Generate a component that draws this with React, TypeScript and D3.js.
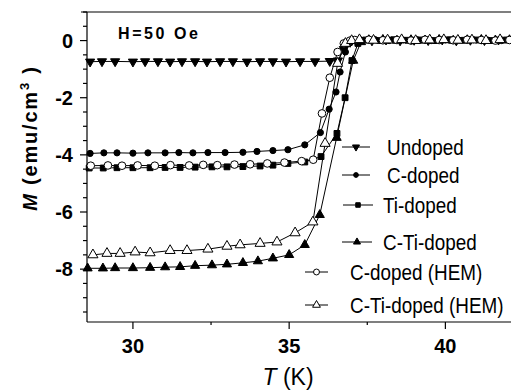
import React, { useEffect, useRef } from "react";
import * as d3 from "d3";

// temperatures (K) and magnetization (emu/cm3)
const undopedT = [28.63, 29.01, 29.43, 30.0, 30.39, 30.8, 31.19, 31.57, 31.99, 32.37, 32.79, 33.2, 33.65, 34.07, 34.48, 34.9, 35.35, 35.83, 36.3, 36.56, 36.75, 36.95, 37.2, 37.65, 38.1, 38.55, 39.0, 39.45, 39.9, 40.35, 40.8, 41.25, 41.7, 42.15];
const undopedM = [-0.74, -0.73, -0.73, -0.74, -0.73, -0.73, -0.74, -0.73, -0.73, -0.74, -0.73, -0.73, -0.74, -0.73, -0.73, -0.74, -0.73, -0.73, -0.72, -0.7, -0.3, -0.05, 0.02, 0, 0.03, 0, 0.02, 0.01, 0.03, 0, 0.02, 0.01, 0.03, 0];

const cDopedT = [28.63, 29.07, 29.49, 30.0, 30.48, 31.03, 31.47, 31.92, 32.4, 32.95, 33.52, 33.97, 34.48, 34.96, 35.5, 36.0, 36.28, 36.5, 36.63, 36.8, 36.95, 37.3, 37.75, 38.2, 38.65, 39.1, 39.55, 40.0, 40.45, 40.9, 41.35, 41.8];
const cDopedM = [-3.95, -3.93, -3.93, -3.94, -3.93, -3.93, -3.92, -3.93, -3.92, -3.92, -3.91, -3.88, -3.85, -3.82, -3.65, -3.22, -2.4, -1.8, -1.1, -0.4, -0.08, 0.01, 0.03, 0, 0.02, 0.03, 0, 0.02, 0.01, 0.03, 0.02, 0];

const tiDopedT = [28.6, 29.05, 29.49, 30.0, 30.55, 31.03, 31.51, 31.99, 32.53, 33.01, 33.52, 34.07, 34.48, 34.96, 35.5, 36.02, 36.53, 36.79, 37.01, 37.2, 37.45, 37.9, 38.35, 38.8, 39.25, 39.7, 40.15, 40.6, 41.05, 41.5, 41.95];
const tiDopedM = [-4.46, -4.46, -4.45, -4.45, -4.45, -4.44, -4.44, -4.43, -4.42, -4.42, -4.41, -4.39, -4.36, -4.3, -4.25, -4.06, -3.25, -2.0, -0.7, -0.1, 0.02, 0, 0.03, 0.01, 0.02, 0, 0.03, 0.01, 0.02, 0, 0.02];

const ctiDopedT = [28.55, 29.04, 29.43, 30.0, 30.55, 31.03, 31.51, 31.99, 32.53, 33.01, 33.52, 34.0, 34.48, 35.0, 35.5, 35.98, 36.52, 37.05, 37.3, 37.55, 38.0, 38.45, 38.9, 39.35, 39.8, 40.25, 40.7, 41.15, 41.6, 42.05];
const ctiDopedM = [-7.97, -7.97, -7.96, -7.96, -7.95, -7.93, -7.92, -7.88, -7.86, -7.83, -7.78, -7.72, -7.62, -7.5, -7.15, -6.1, -3.4, -0.7, -0.05, 0.02, 0.03, 0, 0.02, 0.01, 0.03, 0, 0.02, 0.03, 0.01, 0.02];

const cHemT = [28.65, 29.2, 29.65, 30.15, 30.7, 31.2, 31.8, 32.25, 32.7, 33.25, 33.75, 34.3, 34.85, 35.4, 35.77, 36.05, 36.3, 36.55, 36.75, 36.95, 37.1, 37.55, 38.0, 38.45, 38.9, 39.35, 39.8, 40.25, 40.7, 41.15, 41.6, 42.05];
const cHemM = [-4.38, -4.37, -4.38, -4.37, -4.38, -4.36, -4.37, -4.35, -4.36, -4.34, -4.33, -4.3, -4.27, -4.22, -4.17, -2.55, -1.3, -0.4, -0.1, 0.0, 0.02, 0.03, 0.01, 0.02, 0, 0.03, 0.02, 0.01, 0.03, 0.02, 0, 0.02];

const ctiHemT = [28.72, 29.17, 29.59, 30.07, 30.55, 31.19, 31.73, 32.4, 33.01, 33.43, 34.07, 34.61, 35.19, 35.76, 36.15, 36.55, 36.8, 37.0, 37.25, 37.7, 38.15, 38.6, 39.05, 39.5, 39.95, 40.4, 40.85, 41.3, 41.75];
const ctiHemM = [-7.5, -7.45, -7.45, -7.4, -7.43, -7.35, -7.35, -7.3, -7.2, -7.15, -7.1, -7.05, -6.73, -6.35, -3.6, -0.8, -0.1, 0, 0.03, 0.01, 0.02, 0.03, 0, 0.02, 0.03, 0.01, 0.02, 0, 0.03];

const names = ["Undoped", "C-doped", "Ti-doped", "C-Ti-doped", "C-doped (HEM)", "C-Ti-doped (HEM)"];
const xTicks = [30, 35, 40];
const yTicks = [0, -2, -4, -6, -8];

const FONT = "'Liberation Sans', Arial, sans-serif";

export default function App() {
  const ref = useRef<SVGSVGElement>(null);

  useEffect(() => {
    const svg = d3.select(ref.current);
    svg.selectAll("*").remove();

    const x = d3.scaleLinear().domain([28.53, 42.1]).range([87, 511]);
    const y = d3.scaleLinear().domain([1, -9.85]).range([12, 322]);

    const series = [
      { t: undopedT, m: undopedM, shape: "down", open: false },
      { t: cDopedT, m: cDopedM, shape: "circle", open: false },
      { t: tiDopedT, m: tiDopedM, shape: "square", open: false },
      { t: ctiDopedT, m: ctiDopedM, shape: "up", open: false },
      { t: cHemT, m: cHemM, shape: "circle", open: true },
      { t: ctiHemT, m: ctiHemM, shape: "up", open: true },
    ];

    // legend layout (line start/end, line y, text x)
    const legendPos = [
      [342, 370, 147, 387],
      [342, 370, 175, 387],
      [343, 373, 205, 383],
      [342, 372, 242, 383],
      [305, 328, 272, 350],
      [305, 328, 305, 350],
    ];

    const marker = (shape: string, open: boolean, scale = 1) => {
      if (shape === "circle") return d3.symbol().type(d3.symbolCircle).size((open ? 46 : 30) * scale)();
      if (shape === "square") return d3.symbol().type(d3.symbolSquare).size(34 * scale)();
      return d3.symbol().type(d3.symbolTriangle).size((open ? 44 : 36) * scale)();
    };

    // frame
    const axis = svg.append("g").attr("stroke", "#000").attr("stroke-width", 1.2);
    axis.append("line").attr("x1", 81).attr("x2", 511).attr("y1", 12).attr("y2", 12);
    axis.append("line").attr("x1", 87).attr("x2", 87).attr("y1", 12).attr("y2", 322);
    axis.append("line").attr("x1", 87).attr("x2", 511).attr("y1", 322).attr("y2", 322);

    // y ticks
    d3.range(-9.5, 1.01, 0.5).forEach((v) => {
      const major = yTicks.includes(v);
      axis.append("line")
        .attr("x1", 87).attr("x2", major ? 80 : 83)
        .attr("y1", y(v)).attr("y2", y(v));
    });
    // x ticks
    [30, 32.5, 35, 37.5, 40].forEach((v) => {
      const major = xTicks.includes(v);
      axis.append("line")
        .attr("x1", x(v)).attr("x2", x(v))
        .attr("y1", 322).attr("y2", major ? 329 : 325);
    });

    svg.append("g").selectAll("text").data(yTicks).enter().append("text")
      .attr("x", 73).attr("y", (d) => y(d) + 7)
      .attr("text-anchor", "end")
      .attr("font-family", FONT).attr("font-weight", "bold").attr("font-size", 20)
      .text((d) => String(d));

    svg.append("g").selectAll("text").data(xTicks).enter().append("text")
      .attr("x", (d) => x(d)).attr("y", 353)
      .attr("text-anchor", "middle")
      .attr("font-family", FONT).attr("font-weight", "bold").attr("font-size", 20)
      .text((d) => String(d));

    // series
    series.forEach((s) => {
      const pts = s.t.map((t, i) => [t, s.m[i]] as [number, number]);
      const line = d3.line<[number, number]>().x((d) => x(d[0])).y((d) => y(d[1]));
      svg.append("path").attr("d", line(pts)).attr("fill", "none")
        .attr("stroke", "#000").attr("stroke-width", 1);
    });
    series.forEach((s) => {
      const pts = s.t.map((t, i) => [t, s.m[i]] as [number, number]);
      svg.append("g").selectAll("path").data(pts).enter().append("path")
        .attr("d", marker(s.shape, s.open))
        .attr("transform", (d) => `translate(${x(d[0])},${y(d[1])})${s.shape === "down" ? " rotate(180)" : ""}`)
        .attr("fill", s.open ? "#fff" : "#000")
        .attr("stroke", "#000").attr("stroke-width", 1);
    });

    // legend
    series.forEach((s, i) => {
      const [x1, x2, ly, tx] = legendPos[i];
      const g = svg.append("g");
      g.append("line").attr("x1", x1).attr("x2", x2).attr("y1", ly).attr("y2", ly)
        .attr("stroke", "#000").attr("stroke-width", 1);
      g.append("path").attr("d", marker(s.shape, s.open, 0.6))
        .attr("transform", `translate(${(x1 + x2) / 2},${ly})${s.shape === "down" ? " rotate(180)" : ""}`)
        .attr("fill", s.open ? "#fff" : "#000").attr("stroke", "#000").attr("stroke-width", 1);
      g.append("text")
        .attr("transform", `translate(${tx},${ly + 7.5}) scale(0.84,1)`)
        .attr("font-family", FONT).attr("font-size", 22.5)
        .text(names[i]);
    });

    // annotation
    svg.append("text").attr("x", 118).attr("y", 39)
      .attr("font-family", FONT).attr("font-weight", "bold").attr("font-size", 16)
      .attr("textLength", 80).attr("lengthAdjust", "spacing")
      .text("H=50 Oe");

    // axis titles
    const yl = svg.append("text")
      .attr("transform", "translate(37,138) rotate(-90)")
      .attr("text-anchor", "middle")
      .attr("font-family", FONT).attr("font-weight", "bold").attr("font-size", 20)
      .attr("letter-spacing", 1.8);
    yl.append("tspan").attr("font-style", "italic").text("M");
    yl.append("tspan").text(" (emu/cm");
    yl.append("tspan").attr("dy", -8).attr("font-size", 13).text("3");
    yl.append("tspan").attr("dy", 8).text(" )");

    const xl = svg.append("text").attr("x", 288).attr("y", 385)
      .attr("text-anchor", "middle")
      .attr("font-family", FONT).attr("font-size", 23);
    xl.append("tspan").attr("font-style", "italic").text("T");
    xl.append("tspan").text(" (K)");
  }, []);

  return (
    <svg
      ref={ref}
      width={511}
      height={390}
      style={{ position: "absolute", left: 0, top: 0, background: "#fff" }}
    />
  );
}
